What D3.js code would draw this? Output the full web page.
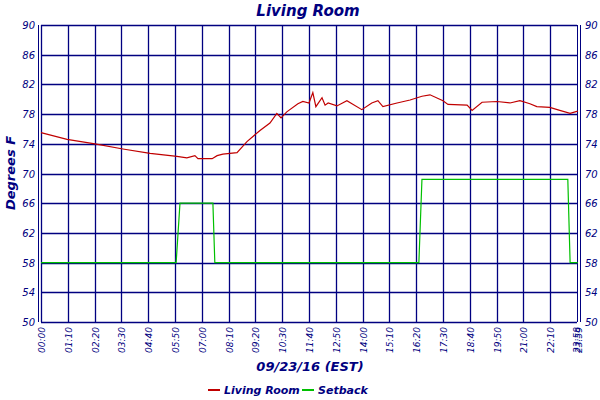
<!DOCTYPE html>
<html><head><meta charset="utf-8">
<script src="https://cdn.jsdelivr.net/npm/d3@7"></script>
<style>body{margin:0;background:#fff}text{font-family:"DejaVu Sans",sans-serif;font-style:italic;fill:#000080}</style>
</head><body><svg id="c" width="600" height="400"></svg>
<script>
const xTickLabels=["00:00","01:10","02:20","03:30","04:40","05:50","07:00","08:10","09:20","10:30","11:40","12:50","14:00","15:10","16:20","17:30","18:40","19:50","21:00","22:10"];
const yTicks=[50,54,58,62,66,70,74,78,82,86,90];
const roomMin=[0,68,141,214,285,355,381,402,410,447,460,475,512,538,572,598,616,627,642,671,684,700,710,718,734,742,750,773,799,838,864,880,893,930,964,995,1016,1050,1063,1113,1126,1152,1191,1225,1251,1277,1295,1329,1355,1382,1402];
const roomTemp=[75.5,74.6,74.0,73.3,72.7,72.3,72.1,72.4,72.0,72.0,72.4,72.6,72.8,74.3,75.8,76.8,78.1,77.5,78.3,79.4,79.7,79.5,80.9,79.0,80.2,79.2,79.5,79.1,79.8,78.6,79.5,79.8,79.0,79.5,79.9,80.4,80.6,79.8,79.3,79.2,78.5,79.6,79.7,79.5,79.8,79.4,79.0,78.9,78.5,78.1,78.4];
const setMin=[0,353,363,449,454,987,995,1376,1382,1402];
const setTemp=[58,58,66,66,58,58,69.2,69.2,58,58];
const svg=d3.select("#c");
const L=41,R=577,T=25,B=322;
const x=d3.scaleLinear().domain([0,1400]).range([L,R]);
const y=d3.scaleLinear().domain([50,90]).range([B,T]);
const g=svg.append("g");
const tickMins=xTickLabels.map((s,i)=>i*70);
tickMins.forEach(m=>g.append("line").attr("x1",Math.round(x(m))+0.5).attr("x2",Math.round(x(m))+0.5).attr("y1",T).attr("y2",B).attr("stroke","#000080").attr("stroke-width",1.3));
yTicks.forEach(v=>g.append("line").attr("x1",L).attr("x2",R).attr("y1",Math.round(y(v))+0.5).attr("y2",Math.round(y(v))+0.5).attr("stroke","#000080").attr("stroke-width",1.3));
[L-2.5,L+0.5,R+0.5,R+3.5].forEach(xx=>g.append("line").attr("x1",xx).attr("x2",xx).attr("y1",T).attr("y2",B).attr("stroke","#000080").attr("stroke-width",1));
const line=d3.line().x(d=>x(d[0])).y(d=>y(d[1]));
g.append("path").attr("d",line(setMin.map((m,i)=>[m,setTemp[i]]))).attr("fill","none").attr("stroke","#00c000").attr("stroke-width",1.2);
g.append("path").attr("d",line(roomMin.map((m,i)=>[m,roomTemp[i]]))).attr("fill","none").attr("stroke","#c00000").attr("stroke-width",1.2);
yTicks.forEach(v=>{
 svg.append("text").attr("x",L-6).attr("y",y(v)+4).attr("text-anchor","end").attr("font-size",10).text(v);
 svg.append("text").attr("x",R+8).attr("y",y(v)+4).attr("font-size",10).text(v);
});
const xl=xTickLabels.concat(["23:58","23:59"]);
const xm=tickMins.concat([1397,1402]);
xl.forEach((s,i)=>svg.append("text").attr("transform",`translate(${x(xm[i])+4},${B+5}) rotate(-90)`).attr("text-anchor","end").attr("font-size",9).text(s));
svg.append("text").attr("x",308).attr("y",16).attr("text-anchor","middle").attr("font-size",15).attr("font-weight","bold").text("Living Room");
svg.append("text").attr("transform","translate(15,173) rotate(-90)").attr("text-anchor","middle").attr("font-size",13).attr("font-weight","bold").text("Degrees F");
svg.append("text").attr("x",310).attr("y",371).attr("text-anchor","middle").attr("font-size",13).attr("font-weight","bold").text("09/23/16 (EST)");
const lg=[["Living Room","#c00000",208],["Setback","#00c000",302]];
lg.forEach(([t,c,lx])=>{svg.append("line").attr("x1",lx).attr("x2",lx+12).attr("y1",390).attr("y2",390).attr("stroke",c).attr("stroke-width",2);
 svg.append("text").attr("x",lx+16).attr("y",394).attr("font-size",11).attr("font-weight","bold").text(t);});
</script></body></html>
